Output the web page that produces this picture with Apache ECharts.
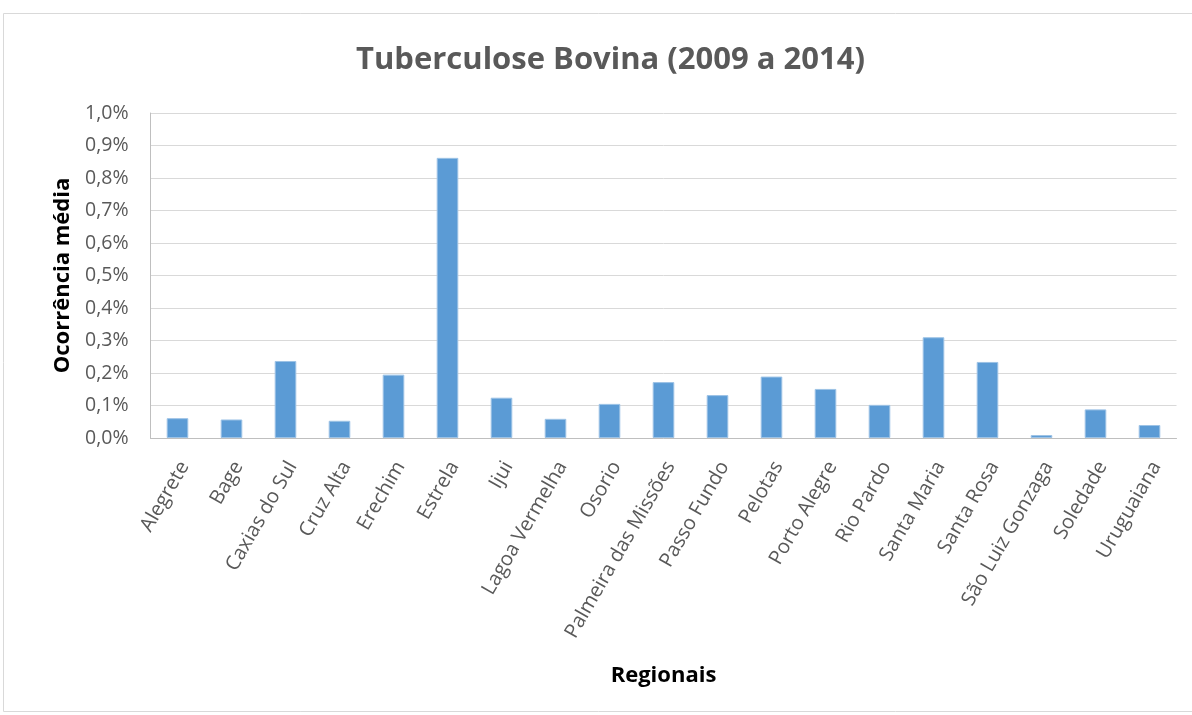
<!DOCTYPE html>
<html><head><meta charset="utf-8">
<script src="https://cdn.jsdelivr.net/npm/echarts@6/dist/echarts.min.js"></script>
<style>html,body{margin:0;padding:0;background:#fff}#c{width:1192px;height:715px}</style>
</head><body><div id="c"></div>
<script>
const categories = ["Alegrete","Bage","Caxias do Sul","Cruz Alta","Erechim","Estrela","Ijui","Lagoa Vermelha","Osorio","Palmeira das Missões","Passo Fundo","Pelotas","Porto Alegre","Rio Pardo","Santa Maria","Santa Rosa","São Luiz Gonzaga","Soledade","Uruguaiana"];
const values = [0.061,0.057,0.237,0.053,0.195,0.862,0.124,0.059,0.105,0.172,0.132,0.189,0.151,0.102,0.310,0.234,0.009,0.088,0.040];
const titleText = "Tuberculose Bovina (2009 a 2014)";
const yName = "Ocorrência média";
const xName = "Regionais";

const chart = echarts.init(document.getElementById('c'));
const F = "'Open Sans', 'Liberation Sans', sans-serif";
chart.setOption({
  animation: false,
  graphic: [{type:'rect', shape:{x:3.5,y:13.5,width:1200,height:698}, style:{fill:'none', stroke:'#d9d9d9', lineWidth:1}, silent:true}],
  title: {text: titleText, left: 351, top: 40, textStyle:{fontFamily:F, fontSize:31, fontWeight:'bold', color:'#595959'}},
  grid: {left: 150.5, right: 15.5, top: 113, bottom: 277, containLabel:false},
  xAxis: {type:'category', data: categories, name: xName, nameLocation:'middle', nameGap: 227,
    nameTextStyle:{fontFamily:F, fontSize:22, fontWeight:'bold', color:'#000'},
    axisLine:{lineStyle:{color:'#bfbfbf'}}, axisTick:{show:false},
    axisLabel:{rotate:60, interval:0, fontFamily:F, fontSize:20, color:'#595959', margin:21, verticalAlign:'top', lineHeight:16}},
  yAxis: {type:'value', min:0, max:1.0, interval:0.1, name: yName, nameLocation:'middle', nameGap: 74,
    nameTextStyle:{fontFamily:F, fontSize:22, fontWeight:'bold', color:'#000'},
    axisLine:{show:true, lineStyle:{color:'#bfbfbf'}}, axisTick:{show:false},
    splitLine:{lineStyle:{color:'#d9d9d9', width:1}},
    axisLabel:{fontFamily:F, fontSize:19.5, color:'#595959', margin:22, formatter: v => v.toFixed(1).replace('.',',')+'%'}},
  series: [{type:'bar', data: values, barWidth:'40%', itemStyle:{color:'#5b9bd5', borderColor:'#9dc3e6', borderWidth:1}}]
});
</script></body></html>
